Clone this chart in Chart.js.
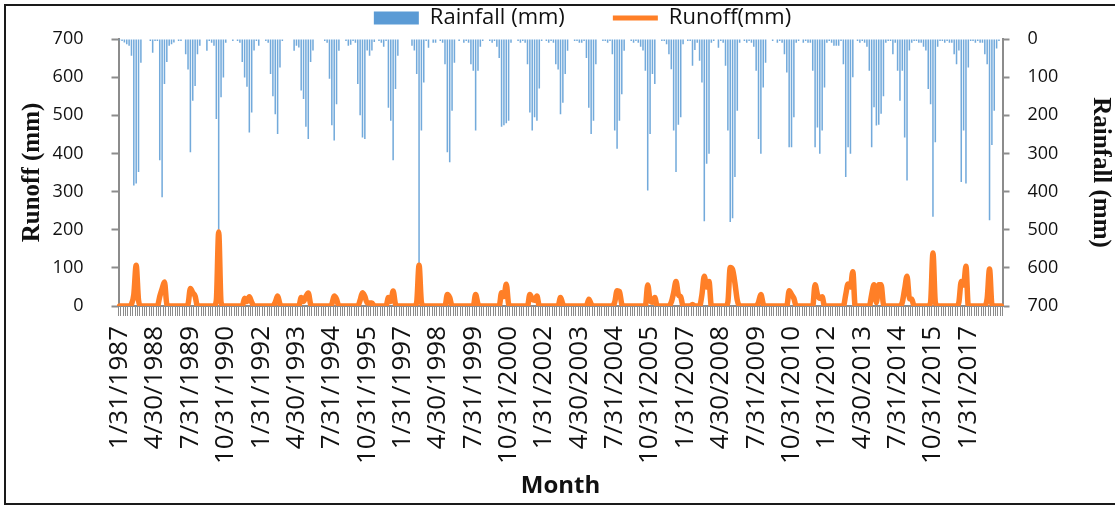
<!DOCTYPE html>
<html>
<head>
<meta charset="utf-8">
<script src="https://cdn.jsdelivr.net/npm/chart.js@4.4.1/dist/chart.umd.min.js"></script>
<style>
  html, body { margin: 0; padding: 0; background: #fff; }
  #wrap { position: relative; width: 1115px; height: 507px; }
</style>
</head>
<body>
<div id="wrap"><canvas id="chart" width="1115" height="507"></canvas></div>
<script>
// Monthly rainfall (mm), Jan 1987 - Mar 2018, one row per year
const rainfall = [
  3, 5, 9, 14, 18, 44, 384, 379, 349, 62, 0, 0,          // 1987
  0, 5, 36, 5, 5, 318, 415, 118, 60, 18, 14, 9,          // 1988
  0, 5, 5, 0, 40, 80, 297, 162, 123, 40, 18, 0,          // 1989
  0, 31, 5, 10, 18, 210, 500, 153, 101, 10, 0, 0,        // 1990
  5, 0, 5, 10, 60, 101, 125, 245, 193, 30, 5, 18,        // 1991
  0, 0, 5, 10, 92, 150, 197, 249, 75, 5, 0, 0,           // 1992
  0, 0, 31, 18, 22, 135, 157, 230, 262, 60, 30, 0,       // 1993
  0, 0, 0, 5, 10, 104, 226, 266, 171, 31, 0, 0,          // 1994
  5, 18, 15, 5, 10, 118, 200, 258, 262, 30, 44, 30,      // 1995
  8, 0, 5, 10, 20, 5, 180, 214, 318, 131, 44, 0,         // 1996
  0, 0, 0, 0, 18, 30, 92, 593, 240, 114, 5, 23,          // 1997
  0, 10, 10, 0, 5, 10, 66, 297, 323, 188, 62, 0,         // 1998
  5, 0, 10, 5, 10, 66, 83, 240, 83, 20, 5, 0,            // 1999
  0, 5, 10, 5, 20, 50, 230, 226, 221, 214, 10, 0,        // 2000
  0, 5, 10, 5, 10, 66, 193, 240, 205, 214, 130, 5,       // 2001
  0, 5, 10, 5, 10, 66, 80, 197, 167, 92, 31, 0,          // 2002
  0, 5, 5, 10, 10, 5, 50, 180, 249, 214, 66, 0,          // 2003
  0, 5, 5, 10, 5, 40, 240, 288, 214, 145, 31, 0,         // 2004
  0, 5, 10, 5, 10, 20, 30, 83, 397, 249, 92, 118,        // 2005
  0, 0, 5, 5, 14, 40, 79, 240, 349, 225, 205, 14,        // 2006
  0, 5, 5, 70, 29, 10, 57, 114, 478, 327, 301, 10,       // 2007
  5, 0, 23, 5, 10, 70, 240, 480, 470, 362, 188, 10,      // 2008
  0, 5, 10, 5, 10, 20, 83, 262, 301, 127, 62, 0,         // 2009
  0, 5, 0, 10, 5, 10, 40, 88, 284, 284, 205, 10,         // 2010
  5, 0, 10, 5, 10, 10, 83, 284, 232, 301, 240, 127,      // 2011
  10, 5, 10, 18, 18, 18, 5, 66, 362, 284, 301, 100,      // 2012
  0, 5, 10, 5, 10, 20, 83, 284, 179, 227, 225, 196,      // 2013
  150, 10, 5, 5, 40, 10, 83, 162, 83, 258, 371, 30,      // 2014
  10, 5, 5, 10, 10, 20, 30, 131, 171, 466, 271, 20,      // 2015
  5, 5, 10, 5, 10, 10, 40, 66, 30, 375, 240, 379,        // 2016
  75, 5, 5, 10, 5, 10, 10, 40, 66, 475, 278, 188,        // 2017
  25, 5, 0                                               // 2018
];

// Monthly runoff (mm), same months
const runoff = [
  0, 0, 0, 0, 0, 5, 30, 107, 15, 0, 0, 0,     // 1987
  0, 0, 0, 0, 0, 25, 45, 63, 5, 0, 0, 0,      // 1988
  0, 0, 0, 0, 0, 5, 46, 35, 26, 0, 0, 0,      // 1989
  0, 0, 0, 0, 0, 15, 194, 10, 0, 0, 0, 0,     // 1990
  0, 0, 0, 0, 0, 20, 12, 24, 10, 0, 0, 0,     // 1991
  0, 0, 0, 0, 0, 0, 10, 26, 5, 0, 0, 0,       // 1992
  0, 0, 0, 0, 0, 22, 12, 25, 34, 5, 0, 0,     // 1993
  0, 0, 0, 0, 0, 0, 5, 26, 18, 0, 0, 0,       // 1994
  0, 0, 0, 0, 0, 0, 15, 35, 25, 8, 8, 8,      // 1995
  0, 0, 0, 0, 0, 0, 22, 12, 39, 5, 0, 0,      // 1996
  0, 0, 0, 0, 0, 0, 10, 107, 10, 0, 0, 0,     // 1997
  0, 0, 0, 0, 0, 0, 0, 30, 22, 0, 0, 0,       // 1998
  0, 0, 0, 0, 0, 0, 0, 30, 5, 0, 0, 0,        // 1999
  0, 0, 0, 0, 0, 0, 35, 25, 57, 5, 0, 0,      // 2000
  0, 0, 0, 0, 0, 0, 30, 18, 15, 26, 0, 0,     // 2001
  0, 0, 0, 0, 0, 0, 0, 22, 5, 0, 0, 0,        // 2002
  0, 0, 0, 0, 0, 0, 0, 18, 5, 0, 0, 0,        // 2003
  0, 0, 0, 0, 0, 0, 10, 40, 38, 5, 0, 0,      // 2004
  0, 0, 0, 0, 0, 0, 0, 0, 55, 15, 10, 22,     // 2005
  0, 0, 0, 0, 0, 0, 10, 35, 64, 30, 24, 0,    // 2006
  0, 0, 0, 4, 0, 0, 0, 30, 78, 50, 64, 0,     // 2007
  0, 0, 0, 0, 0, 0, 10, 101, 95, 60, 15, 0,   // 2008
  0, 0, 0, 0, 0, 0, 0, 10, 30, 5, 0, 0,       // 2009
  0, 0, 0, 0, 0, 0, 0, 0, 40, 30, 20, 0,      // 2010
  0, 0, 0, 0, 0, 0, 0, 56, 30, 20, 24, 0,     // 2011
  0, 0, 0, 0, 0, 0, 0, 0, 30, 58, 50, 90,     // 2012
  0, 0, 0, 0, 0, 0, 0, 30, 56, 9, 56, 56,     // 2013
  5, 0, 0, 0, 0, 0, 0, 0, 10, 45, 78, 20,     // 2014
  18, 0, 0, 0, 0, 0, 0, 0, 10, 139, 10, 0,    // 2015
  0, 0, 0, 0, 0, 0, 0, 0, 10, 64, 55, 104,    // 2016
  0, 0, 0, 0, 0, 0, 0, 0, 20, 97, 5, 0,       // 2017
  0, 0, 0                                     // 2018
];

const startYear = 1987;
const labelEvery = 15;   // a date label every 15 months, like the original axis

// month-end dates as category labels (m/d/yyyy)
const months = [];
for (let k = 0; k < rainfall.length; k++) {
  const y = startYear + Math.floor(k / 12);
  const m = (k % 12) + 1;
  const last = new Date(y, m, 0).getDate();
  months.push(m + '/' + last + '/' + y);
}

const axisGrey = '#8c8c8c';
const textColor = '#111';

// white background plus the thin black frame round the figure
const framePlugin = {
  id: 'frame',
  beforeDraw(chart) {
    const c = chart.ctx;
    c.save();
    c.fillStyle = '#fff';
    c.fillRect(0, 0, chart.width, chart.height);
    c.restore();
  },
  afterDraw(chart) {
    const c = chart.ctx;
    c.save();
    c.strokeStyle = '#1a1a1a';
    c.lineWidth = 2;
    c.strokeRect(5, 5, 1130, 499);
    c.restore();
  }
};

// the original legend sits a little right of centre
const legendShift = {
  id: 'legendShift',
  afterLayout(chart) {
    chart.legend.left += 22;
    chart.legend.right += 22;
  }
};

Chart.defaults.font.family = "'Open Sans', sans-serif";
Chart.defaults.color = textColor;

const ctx = document.getElementById('chart').getContext('2d');
new Chart(ctx, {
  data: {
    labels: months,
    datasets: [
      {
        type: 'bar',
        label: 'Rainfall (mm)',
        data: rainfall,
        yAxisID: 'y1',
        backgroundColor: 'rgba(91,155,213,0.85)',
        borderWidth: 0,
        barPercentage: 0.65,
        categoryPercentage: 1,
        order: 2
      },
      {
        type: 'line',
        label: 'Runoff(mm)',
        data: runoff,
        yAxisID: 'y',
        borderColor: '#FF7F27',
        backgroundColor: '#FF7F27',
        borderWidth: 5.5,
        borderJoinStyle: 'round',
        borderCapStyle: 'round',
        pointRadius: 0,
        pointBorderWidth: 5,
        pointBorderColor: '#FF7F27',
        cubicInterpolationMode: 'monotone',
        order: 1
      }
    ]
  },
  options: {
    responsive: false,
    animation: false,
    // negative top padding lets the wide legend spacing keep the plot top at y=38
    layout: { padding: { left: 6, right: 0, top: -41, bottom: 6 } },
    plugins: {
      tooltip: { enabled: false },
      legend: {
        position: 'top',
        labels: {
          usePointStyle: true,
          pointStyleWidth: 45,
          boxHeight: 13,
          padding: 48,
          color: textColor,
          font: { size: 22 },
          sort: (a, b) => a.datasetIndex - b.datasetIndex,
          generateLabels(chart) {
            const items = Chart.defaults.plugins.legend.labels.generateLabels(chart);
            items.forEach(it => {
              it.pointStyle = it.datasetIndex === 0 ? 'rect' : 'line';
              if (it.datasetIndex === 0) it.fillStyle = '#5B9BD5';
            });
            return items;
          }
        }
      }
    },
    scales: {
      x: {
        type: 'category',
        offset: true,
        grid: {
          display: true,
          drawOnChartArea: false,
          drawTicks: true,
          tickLength: 10,
          tickColor: axisGrey,
          tickWidth: 1,
          offset: true
        },
        border: { color: axisGrey, width: 2 },
        ticks: {
          autoSkip: false,
          minRotation: 90,
          maxRotation: 90,
          padding: 10,
          color: textColor,
          font: { size: 26 },
          callback(v, i) {
            return i % labelEvery === 0 ? this.getLabelForValue(v) : '';
          }
        },
        title: {
          display: true,
          text: 'Month',
          color: textColor,
          font: { size: 24, weight: 'bold' },
          padding: { top: 0, bottom: 0 }
        },
        afterFit(scale) { scale.height = 195; }
      },
      y: {
        position: 'left',
        min: 0,
        max: 700,
        ticks: { stepSize: 100, padding: 28, color: textColor, font: { size: 18 } },
        grid: { drawOnChartArea: false, tickLength: 7, tickColor: axisGrey, tickWidth: 2 },
        border: { color: axisGrey, width: 2 },
        title: {
          display: true,
          text: 'Runoff (mm)',
          color: textColor,
          font: { family: "'Liberation Serif', serif", size: 25, weight: 'bold' },
          padding: { top: 12, bottom: 0 }
        },
        afterFit(scale) { scale.width = 112.5; }
      },
      y1: {
        position: 'right',
        reverse: true,
        min: 0,
        max: 700,
        ticks: { stepSize: 100, padding: 18, color: textColor, font: { size: 18 } },
        grid: { drawOnChartArea: false, tickLength: 7, tickColor: axisGrey, tickWidth: 2 },
        border: { color: axisGrey, width: 2 },
        title: {
          display: true,
          text: 'Rainfall (mm)',
          color: textColor,
          font: { family: "'Liberation Serif', serif", size: 25, weight: 'bold' },
          padding: { top: 0, bottom: 0 }
        },
        afterFit(scale) { scale.width = 112.5; }
      }
    }
  },
  plugins: [framePlugin, legendShift]
});
</script>
</body>
</html>
